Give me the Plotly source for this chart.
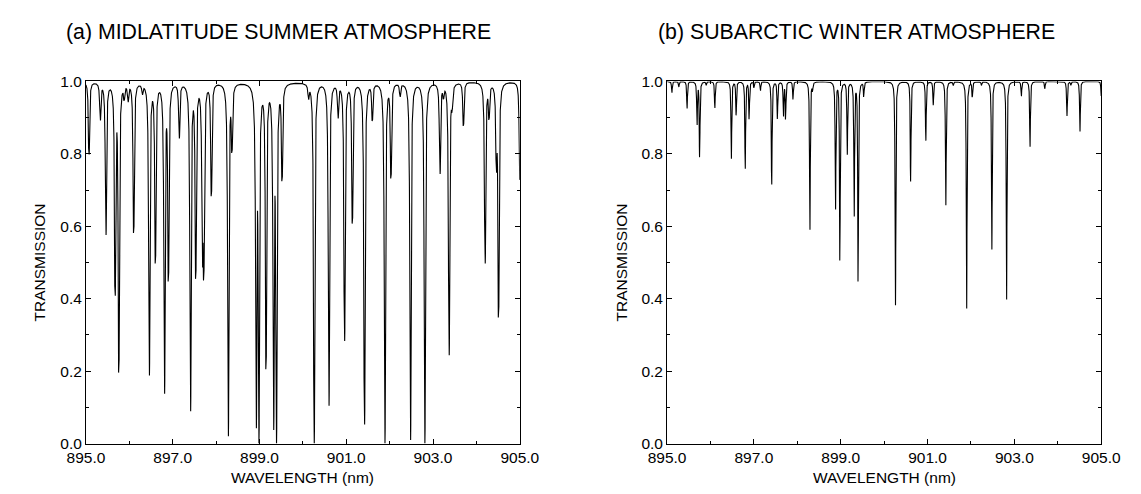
import numpy as np
import plotly.graph_objects as go

# ---------------- data ----------------
# (a) Midlatitude summer: absorption line centres (nm) and transmission at line centre
mls_centers = [895.07, 895.33, 895.46, 895.672, 895.757, 895.88, 895.97, 896.10, 896.30, 896.46,
               896.60, 896.81, 896.90, 897.15, 897.41, 897.53, 897.684, 897.716, 897.89, 898.28,
               898.365, 898.925, 898.985, 899.15, 899.325, 899.39, 899.52, 900.13, 900.26, 900.60,
               900.81, 900.96, 901.14, 901.42, 901.60, 901.89, 902.03, 902.24, 902.48, 902.81,
               903.16, 903.24, 903.37, 903.44, 903.70, 904.20, 904.29, 904.46, 904.51, 905.00]
mls_minimum = [0.80, 0.90, 0.58, 0.42, 0.20, 0.965, 0.955, 0.585, 0.975, 0.19,
               0.505, 0.14, 0.46, 0.85, 0.09, 0.465, 0.56, 0.51, 0.69, 0.02,
               0.83, 0.045, 0.0, 0.21, 0.04, 0.0, 0.74, 0.965, 0.0, 0.105,
               0.91, 0.285, 0.613, 0.053, 0.90, 0.0, 0.742, 0.965, 0.01, 0.0,
               0.75, 0.97, 0.245, 0.95, 0.88, 0.50, 0.91, 0.80, 0.355, 0.73]

# (b) Subarctic winter
saw_centers = [895.11, 895.27, 895.46, 895.69, 895.75, 895.90, 896.10, 896.48, 896.59, 896.80,
               896.89, 897.00, 897.15, 897.41, 897.54, 897.68, 897.73, 897.90, 898.29, 898.35,
               898.88, 898.98, 899.15, 899.31, 899.40, 899.53, 900.26, 900.61, 900.96, 901.13,
               901.42, 901.59, 901.90, 902.03, 902.24, 902.48, 902.82, 903.16, 903.36, 903.70,
               904.21, 904.30, 904.51, 905.00]
saw_minimum = [0.969, 0.985, 0.926, 0.884, 0.793, 0.99, 0.927, 0.787, 0.908, 0.76,
               0.898, 0.985, 0.975, 0.716, 0.898, 0.907, 0.898, 0.951, 0.591, 0.98,
               0.649, 0.507, 0.80, 0.631, 0.449, 0.96, 0.382, 0.724, 0.837, 0.935,
               0.658, 0.99, 0.373, 0.96, 0.99, 0.536, 0.398, 0.96, 0.82, 0.98,
               0.905, 0.99, 0.862, 0.96]

x_tick_vals = [895.0, 897.0, 899.0, 901.0, 903.0, 905.0]
y_tick_vals = [0.0, 0.2, 0.4, 0.6, 0.8, 1.0]
panel_titles = ["(a) MIDLATITUDE SUMMER ATMOSPHERE", "(b) SUBARCTIC WINTER ATMOSPHERE"]

# ---------------- build the spectra from the line lists ----------------
wl = np.round(np.linspace(895.0, 905.0, 10001), 3)


def spectrum(centers, minima, wing):
    """Strong-line shape: steep walls, rounded wings, transmission m at centre."""
    t = np.ones_like(wl)
    for c, m in zip(centers, minima):
        dx2 = np.maximum((wl - c) ** 2, 1e-14)
        t *= 1.0 - (1.0 - m) * (1.0 - np.exp(-wing / dx2))
    return t


t_mls = spectrum(mls_centers, mls_minimum, 2.0e-4)
t_saw = spectrum(saw_centers, saw_minimum, 7e-5)

W, H = 1141, 494
FONT = "Liberation Sans, Arial, sans-serif"

fig = go.Figure()
fig.add_trace(go.Scatter(x=wl, y=t_mls, mode="lines", line=dict(color="black", width=1.1),
                         xaxis="x", yaxis="y", showlegend=False, hoverinfo="skip"))
fig.add_trace(go.Scatter(x=wl, y=t_saw, mode="lines", line=dict(color="black", width=1.1),
                         xaxis="x2", yaxis="y2", showlegend=False, hoverinfo="skip"))

left_dom = [69.3 / W, 518.5 / W]
right_dom = [671.0 / W, 1120.5 / W]
y_dom = [1 - 450.0 / H, 1 - 75.0 / H]

xcommon = dict(range=[895.0, 905.0], tickvals=x_tick_vals, tickformat=".1f",
               ticks="inside", ticklen=5, tickcolor="black", tickwidth=1,
               minor=dict(dtick=1.0, tick0=895.0, ticks="inside", ticklen=3, tickcolor="black"),
               showline=True, linecolor="black", linewidth=1, mirror="allticks",
               showgrid=False, zeroline=False,
               tickfont=dict(family=FONT, size=15.5, color="black"))
ycommon = dict(range=[0.0, 1.0], tickvals=y_tick_vals, tickformat=".1f",
               ticks="inside", ticklen=5, tickcolor="black", tickwidth=1,
               minor=dict(dtick=0.1, tick0=0.0, ticks="inside", ticklen=3, tickcolor="black"),
               showline=True, linecolor="black", linewidth=1, mirror="allticks",
               showgrid=False, zeroline=False,
               tickfont=dict(family=FONT, size=15.5, color="black"))

fig.update_layout(
    width=W, height=H,
    margin=dict(l=0, r=0, t=0, b=0),
    paper_bgcolor="white", plot_bgcolor="white",
    xaxis=dict(domain=left_dom, anchor="y", **xcommon),
    yaxis=dict(domain=y_dom, anchor="x", **ycommon),
    xaxis2=dict(domain=right_dom, anchor="y2", **xcommon),
    yaxis2=dict(domain=y_dom, anchor="x2", **ycommon),
)

ann = []
for cx, title in zip([269.0, 866.7], panel_titles):
    ann.append(dict(text=title, x=cx / W, y=1 - 23.5 / H, xref="paper", yref="paper",
                    xanchor="center", yanchor="middle", showarrow=False,
                    font=dict(family=FONT, size=21.3, color="black")))
for cx in [sum(left_dom) / 2, sum(right_dom) / 2]:
    ann.append(dict(text="WAVELENGTH (nm)", x=cx, y=1 - 485.0 / H, xref="paper", yref="paper",
                    xanchor="center", yanchor="middle", showarrow=False,
                    font=dict(family=FONT, size=15.5, color="black")))
for px in [21.7, 623.3]:
    ann.append(dict(text="TRANSMISSION", x=px / W, y=sum(y_dom) / 2, xref="paper", yref="paper",
                    xanchor="center", yanchor="middle", showarrow=False, textangle=-90,
                    font=dict(family=FONT, size=15.5, color="black")))
fig.update_layout(annotations=ann)

fig.write_html("out.html", config={"displayModeBar": False},
               post_script="document.body.style.margin='0';")
